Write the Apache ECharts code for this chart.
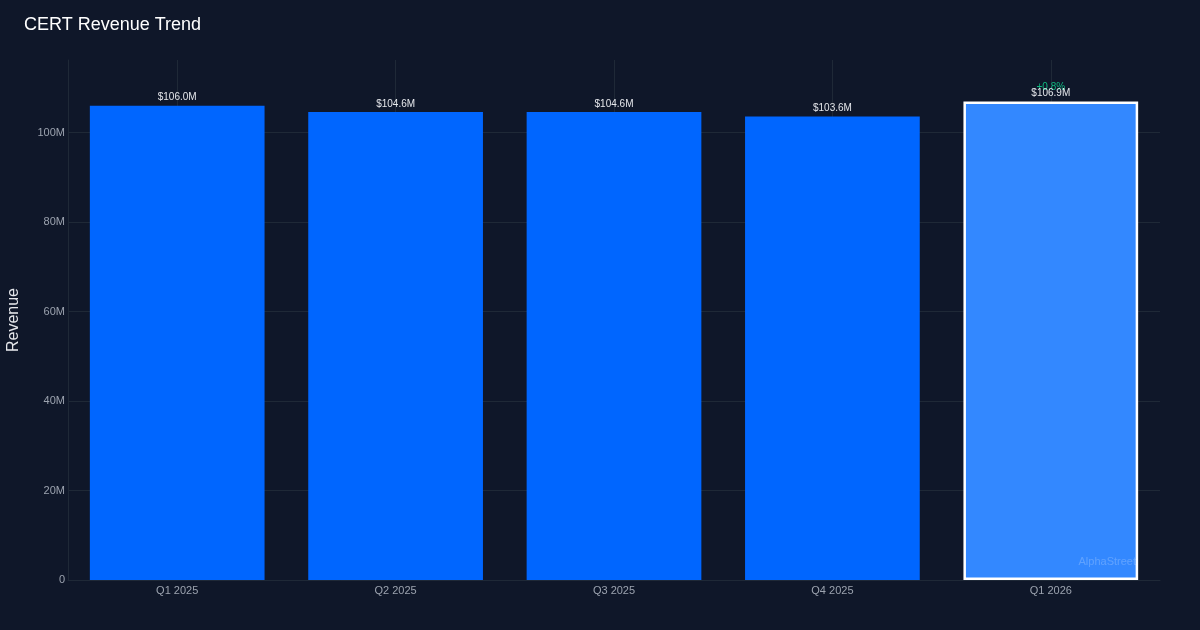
<!DOCTYPE html>
<html>
<head>
<meta charset="utf-8">
<script src="https://cdn.jsdelivr.net/npm/echarts@6/dist/echarts.min.js"></script>
<style>
html,body{margin:0;padding:0;background:#0f1729;}
#c{width:1200px;height:630px;}
</style>
</head>
<body>
<div id="c"></div>
<script>
const categories = ['Q1 2025', 'Q2 2025', 'Q3 2025', 'Q4 2025', 'Q1 2026'];
const revenue = [106.0, 104.6, 104.6, 103.6, 106.9];
const yTicks = [0, 20, 40, 60, 80, 100];

const last = revenue.length - 1;
// year-over-year change vs same quarter last year
const change = (revenue[last] - revenue[last - 4]) / revenue[last - 4] * 100;
const changeText = (change >= 0 ? '+' : '') + change.toFixed(1) + '%';

const chart = echarts.init(document.getElementById('c'));
const data = revenue.map((v, i) => {
  if (i === last) {
    return {
      value: v,
      itemStyle: { color: '#3388ff', borderColor: '#ffffff', borderWidth: 2.5 },
      label: {
        distance: 2,
        formatter: '{g|' + changeText + '}\n{w|$' + v.toFixed(1) + 'M}',
        rich: {
          g: { color: '#10b981', fontSize: 10, lineHeight: 1, fontFamily: 'Liberation Sans' },
          w: { color: '#e5e7eb', fontSize: 10, lineHeight: 12, fontFamily: 'Liberation Sans' }
        }
      }
    };
  }
  return v;
});

chart.setOption({
  backgroundColor: '#0f1729',
  animation: false,
  title: {
    text: 'CERT Revenue Trend',
    left: 19, top: 11,
    textStyle: { color: '#ffffff', fontSize: 18, fontWeight: 'normal', fontFamily: 'Liberation Sans' }
  },
  grid: { left: 68, right: 40, top: 60, bottom: 50, containLabel: false, outerBoundsMode: 'none' },
  xAxis: {
    type: 'category',
    data: categories,
    axisLine: { show: true, lineStyle: { color: '#1f2937', width: 1 } },
    axisTick: { show: false },
    axisLabel: { color: '#9ca3af', fontSize: 11, margin: 5, fontFamily: 'Liberation Sans' },
    splitLine: { show: true, alignWithLabel: true, lineStyle: { color: '#1f2937', width: 1 } }
  },
  yAxis: {
    type: 'value',
    min: 0, max: 116.2, interval: 20,
    name: 'Revenue',
    nameLocation: 'middle',
    nameGap: 46,
    nameTextStyle: { color: '#e5e7eb', fontSize: 16, fontFamily: 'Liberation Sans' },
    axisLine: { show: true, lineStyle: { color: '#1f2937', width: 1 } },
    axisTick: { show: false },
    axisLabel: {
      color: '#9ca3af', fontSize: 11, margin: 3, fontFamily: 'Liberation Sans',
      showMaxLabel: false,
      formatter: v => yTicks.includes(v) ? (v === 0 ? '0' : v + 'M') : ''
    },
    splitLine: { show: true, showMaxLine: false, lineStyle: { color: '#1f2937', width: 1 } }
  },
  series: [{
    type: 'bar',
    data: data,
    barCategoryGap: '20%',
    itemStyle: { color: '#0066ff' },
    label: {
      show: true,
      position: 'top',
      distance: 3,
      color: '#e5e7eb',
      fontSize: 10,
      fontFamily: 'Liberation Sans',
      formatter: p => '$' + p.value.toFixed(1) + 'M'
    }
  }],
  graphic: [{
    type: 'text',
    z: 100,
    right: 64, top: 556,
    style: { text: 'AlphaStreet', fill: 'rgba(255,255,255,0.22)', fontSize: 11, fontFamily: 'Liberation Sans' }
  }]
});
</script>
</body>
</html>
